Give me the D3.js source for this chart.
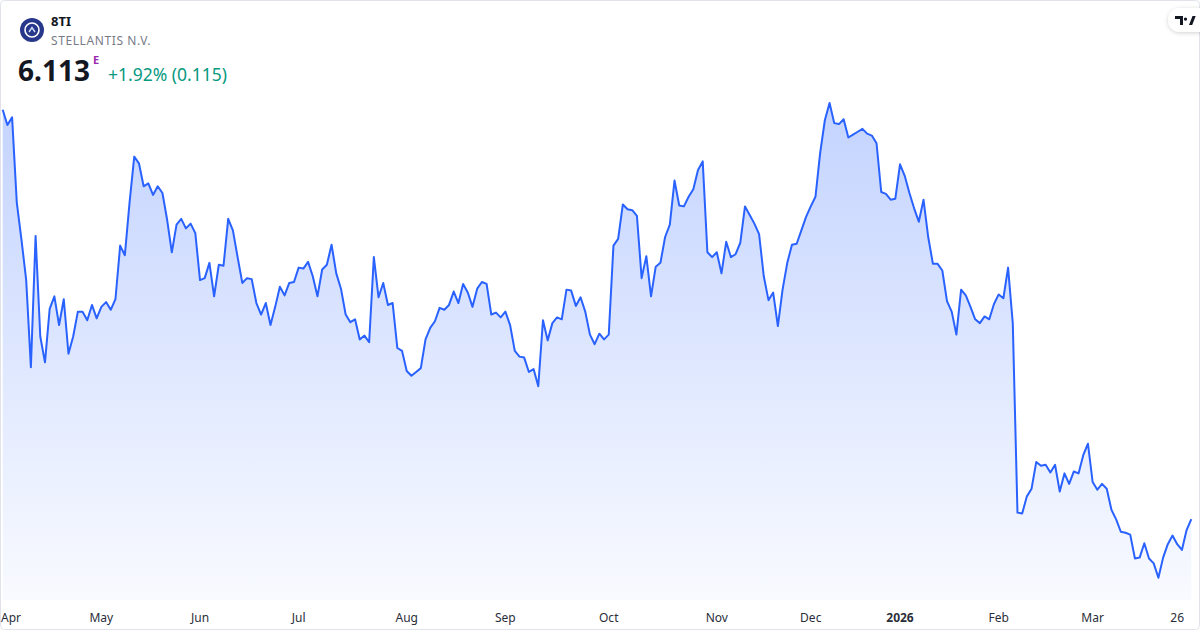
<!DOCTYPE html>
<html>
<head>
<meta charset="utf-8">
<script src="https://cdn.jsdelivr.net/npm/d3@7"></script>
<style>
  body { margin: 0; background: #fff; }
  svg { display: block; font-family: "Noto Sans", "Open Sans", sans-serif; }
</style>
</head>
<body>
<div class="chart"></div>
<script>
// Daily closes, 8TI (Stellantis), 31 Mar 2025 .. 31 Mar 2026
var closes = [
  10.39, 10.23, 10.31, 9.42, 9.03, 8.61, 7.70, 9.07, 8.02, 7.75, 8.31, 8.44, 8.14, 8.41, 7.84, 8.02,
  8.28, 8.28, 8.19, 8.35, 8.21, 8.33, 8.38, 8.30, 8.41, 8.97, 8.87, 9.42, 9.90, 9.83, 9.59, 9.62,
  9.50, 9.59, 9.52, 9.24, 8.90, 9.19, 9.25, 9.15, 9.20, 9.10, 8.61, 8.63, 8.79, 8.44, 8.77, 8.76,
  9.25, 9.13, 8.85, 8.58, 8.63, 8.62, 8.37, 8.25, 8.37, 8.14, 8.33, 8.54, 8.45, 8.58, 8.59, 8.74,
  8.73, 8.80, 8.65, 8.44, 8.72, 8.77, 8.98, 8.68, 8.52, 8.25, 8.17, 8.20, 7.99, 8.03, 7.96, 8.85,
  8.43, 8.58, 8.35, 8.37, 7.90, 7.87, 7.66, 7.61, 7.65, 7.69, 7.99, 8.11, 8.18, 8.32, 8.30, 8.35,
  8.49, 8.37, 8.57, 8.48, 8.33, 8.52, 8.59, 8.57, 8.25, 8.27, 8.22, 8.28, 8.14, 7.87, 7.81, 7.80,
  7.65, 7.68, 7.50, 8.19, 7.98, 8.16, 8.22, 8.20, 8.51, 8.50, 8.34, 8.43, 8.28, 8.04, 7.94, 8.05,
  7.99, 8.04, 8.97, 9.04, 9.40, 9.35, 9.34, 9.28, 8.63, 8.86, 8.44, 8.75, 8.79, 9.06, 9.19, 9.65,
  9.39, 9.38, 9.48, 9.56, 9.76, 9.85, 8.90, 8.85, 8.90, 8.68, 9.01, 8.85, 8.88, 9.00, 9.38, 9.29,
  9.20, 9.09, 8.65, 8.40, 8.48, 8.13, 8.51, 8.79, 8.98, 8.99, 9.13, 9.27, 9.38, 9.48, 9.94, 10.28,
  10.46, 10.25, 10.24, 10.29, 10.10, 10.13, 10.16, 10.19, 10.14, 10.12, 10.04, 9.53, 9.51, 9.45, 9.46, 9.82,
  9.70, 9.52, 9.36, 9.22, 9.45, 9.06, 8.78, 8.78, 8.71, 8.39, 8.28, 8.04, 8.51, 8.45, 8.33, 8.20,
  8.16, 8.23, 8.20, 8.36, 8.46, 8.42, 8.74, 8.16,
  6.18, 6.17, 6.35, 6.43, 6.71, 6.67, 6.68, 6.60, 6.68, 6.40, 6.59, 6.48, 6.61, 6.59, 6.78, 6.90,
  6.50, 6.42, 6.48, 6.43, 6.21, 6.11, 5.98, 5.97, 5.95, 5.70, 5.71, 5.86, 5.70, 5.65, 5.50, 5.71,
  5.85, 5.94, 5.85, 5.79, 5.998, 6.113
];

// Exchange holidays inside the range
var holidays = ["2025-04-18", "2025-04-21", "2025-05-01", "2025-12-24", "2025-12-25",
  "2025-12-26", "2025-12-31", "2026-01-01"];
var monthNames = ["2026", "Feb", "Mar", "Apr", "May", "Jun", "Jul", "Aug", "Sep", "Oct", "Nov", "Dec"];
var dayTick = "2026-03-26";

var symbol = "8TI";
var company = "STELLANTIS N.V.";
var lastPrice = "6.113";
var change = "+1.92% (0.115)";

var svgWidth = 1200;
var svgHeight = 630;

// trading days
var fmt = d3.timeFormat("%Y-%m-%d");
var dates = [];
var d = new Date(2025, 2, 31);
while (dates.length < closes.length) {
  var wd = d.getDay();
  if (wd !== 0 && wd !== 6 && holidays.indexOf(fmt(d)) < 0) dates.push(new Date(d));
  d.setDate(d.getDate() + 1);
}
var data = closes.map(function(c, i) { return {i: i, date: dates[i], close: c}; });

var svg = d3.select(".chart").append("svg")
  .attr("width", svgWidth)
  .attr("height", svgHeight);

var defs = svg.append("defs");
var grad = defs.append("linearGradient")
  .attr("id", "fillGrad")
  .attr("gradientUnits", "userSpaceOnUse")
  .attr("x1", 0).attr("y1", 100).attr("x2", 0).attr("y2", 600);
grad.append("stop").attr("offset", "0").attr("stop-color", "#2962ff").attr("stop-opacity", 0.28);
grad.append("stop").attr("offset", "1").attr("stop-color", "#2962ff").attr("stop-opacity", 0.03);

var shadow = defs.append("filter").attr("id", "shadow")
  .attr("x", "-50%").attr("y", "-50%").attr("width", "200%").attr("height", "200%");
shadow.append("feDropShadow").attr("dx", 0).attr("dy", 1).attr("stdDeviation", 2)
  .attr("flood-color", "#000").attr("flood-opacity", 0.18);

// frame
svg.append("rect")
  .attr("x", 0.5).attr("y", 0.5)
  .attr("width", svgWidth - 1).attr("height", svgHeight - 1)
  .attr("rx", 4)
  .attr("fill", "#fff")
  .attr("stroke", "#e0e3eb");

// scales
var x = d3.scaleLinear().domain([0, closes.length - 1]).range([2.7, 1191.3]);
var y = d3.scaleLinear().domain([5.5, 10.5]).range([577.7, 99.2]);
var baseY = 600;

var area = d3.area()
  .x(function(p) { return x(p.i); })
  .y0(baseY)
  .y1(function(p) { return y(p.close); });

var line = d3.line()
  .x(function(p) { return x(p.i); })
  .y(function(p) { return y(p.close); });

svg.append("path")
  .datum(data)
  .attr("d", area)
  .attr("fill", "url(#fillGrad)");

svg.append("path")
  .datum(data)
  .attr("d", line)
  .attr("fill", "none")
  .attr("stroke", "#2962ff")
  .attr("stroke-width", 2)
  .attr("stroke-linejoin", "round");

// x axis labels: first trading day of every month, plus the day tick
var ticks = [];
data.forEach(function(p, k) {
  if (k > 0 && p.date.getMonth() !== data[k - 1].date.getMonth()) {
    ticks.push({i: p.i, label: monthNames[p.date.getMonth()], bold: p.date.getMonth() === 0});
  }
  if (fmt(p.date) === dayTick) ticks.push({i: p.i, label: String(p.date.getDate()), bold: false});
});

var tickText = svg.append("g").selectAll("text")
  .data(ticks)
  .enter().append("text")
  .attr("x", function(t) { return x(t.i); })
  .attr("y", 622)
  .attr("text-anchor", "middle")
  .attr("font-size", 12)
  .attr("font-weight", function(t) { return t.bold ? "bold" : "normal"; })
  .attr("fill", "#2a2e39")
  .text(function(t) { return t.label; });

// keep the first label inside the frame
tickText.each(function() {
  var b = this.getBBox();
  if (b.x < 1) d3.select(this).attr("text-anchor", "start").attr("x", 1);
});

// header
var logo = svg.append("g").attr("transform", "translate(32,30)");
logo.append("circle").attr("r", 12).attr("fill", "#27388a");
logo.append("circle").attr("r", 7).attr("fill", "none").attr("stroke", "#fff").attr("stroke-width", 1.6);
logo.append("path").attr("d", "M-3,2 L0,-2.5 L3,2").attr("fill", "none")
  .attr("stroke", "#cfe0ff").attr("stroke-width", 1.4);

svg.append("text").attr("x", 51).attr("y", 26)
  .attr("font-size", 13).attr("font-weight", "bold").attr("fill", "#131722")
  .text(symbol);
svg.append("text").attr("x", 51).attr("y", 45)
  .attr("font-size", 12).attr("fill", "#787b86").attr("letter-spacing", 0.6)
  .text(company);
svg.append("text").attr("x", 18).attr("y", 81)
  .attr("font-size", 28).attr("font-weight", "bold").attr("fill", "#131722")
  .text(lastPrice);
svg.append("text").attr("x", 93).attr("y", 64)
  .attr("font-size", 11).attr("font-weight", "bold").attr("fill", "#9c27b0")
  .text("E");
svg.append("text").attr("x", 108).attr("y", 81)
  .attr("font-size", 17.5).attr("fill", "#089981")
  .text(change);

// TradingView badge
var badge = svg.append("g").attr("transform", "translate(1168,8)");
badge.append("rect").attr("width", 44).attr("height", 24).attr("rx", 12)
  .attr("fill", "#fff").attr("filter", "url(#shadow)");
badge.append("path")
  .attr("d", "M7,8 h8 v9 h-3 v-6 h-5 z M17.5,9.5 a1.6,1.6 0 1,0 0.01,0 z M21,17 l3.5,-9 h3.2 l-3.5,9 z")
  .attr("fill", "#131722");
</script>
</body>
</html>
